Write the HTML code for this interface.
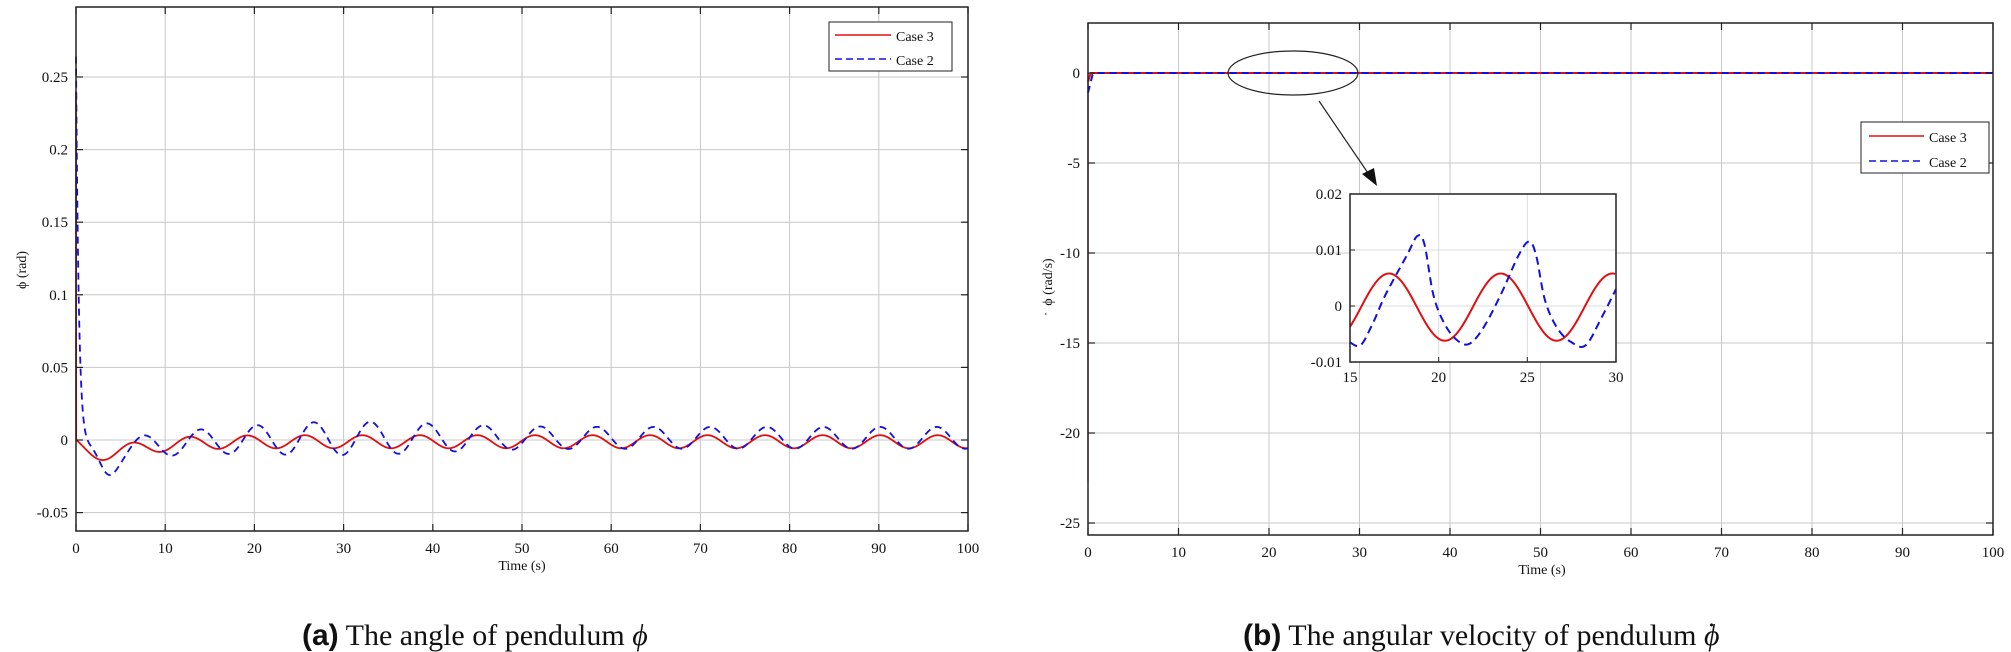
<!DOCTYPE html>
<html><head><meta charset="utf-8"><style>
html,body{margin:0;padding:0;background:#fff;}
svg{display:block;}
text{font-family:"Liberation Serif",serif;fill:#111;}
</style></head><body>
<svg id="s" width="2011" height="652" viewBox="0 0 2011 652" xmlns="http://www.w3.org/2000/svg">
<rect width="2011" height="652" fill="#fff"/>
<g id="g"></g>
<text x="302" y="645" font-size="30"><tspan font-family="Liberation Sans, sans-serif" font-weight="bold">(a)</tspan> The angle of pendulum <tspan font-style="italic">ϕ</tspan></text>
<text x="1243" y="645" font-size="30"><tspan font-family="Liberation Sans, sans-serif" font-weight="bold">(b)</tspan> The angular velocity of pendulum <tspan font-style="italic">ϕ</tspan><tspan dx="-13" dy="-2">˙</tspan></text>
</svg>
<script>
const NS="http://www.w3.org/2000/svg";
const G=document.getElementById('g');
function el(t,a,txt){const e=document.createElementNS(NS,t);for(const k in a)e.setAttribute(k,a[k]);if(txt!==undefined)e.textContent=txt;G.appendChild(e);return e;}
function line(x1,y1,x2,y2,st,w,da){const a={x1,y1,x2,y2,stroke:st,'stroke-width':w||1};if(da)a['stroke-dasharray']=da;return el('line',a);}
function path(pts,st,w,da){let d='M'+pts.map(p=>p[0].toFixed(2)+','+p[1].toFixed(2)).join('L');const a={d,fill:'none',stroke:st,'stroke-width':w,'stroke-linejoin':'round'};if(da)a['stroke-dasharray']=da;return el('path',a);}

const L={x0:76,x1:968,y0:7,y1:531};
const lx=t=>76+t*8.92, ly=v=>440-v*1452;
for(let t=10;t<100;t+=10)line(lx(t),L.y0,lx(t),L.y1,'#c8c8c8',1);
for(let v=-0.05;v<=0.2501;v+=0.05)line(L.x0,ly(v),L.x1,ly(v),'#c8c8c8',1);
const RED='#e01010',BLUE='#1010e0';
let rp=[],bp=[];
rp.push([lx(0),ly(0.24)]);
for(let t=0.02;t<=100;t+=0.05){
 let r=-0.0012+0.0045*Math.cos(2*Math.PI*(t-6.3)/6.45)-0.008*(t/2.8)*Math.exp(1-t/2.8)-0.003*Math.exp(-t);
 rp.push([lx(t),ly(r)]);
}
for(let t=0;t<=100;t+=0.03){
 let c=0.0015-0.016*Math.exp(-t/8);
 let a=0.0075+0.004*Math.exp(-Math.pow((t-30)/14,2));
 let b=0.264*Math.exp(-t/0.32)+(1-Math.exp(-t/0.6))*(c+a*Math.cos(2*Math.PI*(t-7.6)/6.35))-0.01*Math.exp(-Math.pow((t-3.5)/1.3,2));
 bp.push([lx(t),ly(b)]);
}
path(rp,RED,1.8);
path(bp,BLUE,1.8,'7,5');
el('rect',{x:L.x0,y:L.y0,width:L.x1-L.x0,height:L.y1-L.y0,fill:'none',stroke:'#222','stroke-width':1.5});
for(let t=0;t<=100;t+=10){line(lx(t),L.y1,lx(t),L.y1-7,'#222',1.2);line(lx(t),L.y0,lx(t),L.y0+7,'#222',1.2);
 el('text',{x:lx(t),y:553,'font-size':15,'text-anchor':'middle'},String(t));}
const ylabL=['-0.05','0','0.05','0.1','0.15','0.2','0.25'];
ylabL.forEach((s,i)=>{const v=-0.05+0.05*i;line(L.x0,ly(v),L.x0+7,ly(v),'#222',1.2);line(L.x1,ly(v),L.x1-7,ly(v),'#222',1.2);
 el('text',{x:68,y:ly(v)+5,'font-size':15,'text-anchor':'end'},s);});
el('text',{x:522,y:570,'font-size':14,'text-anchor':'middle'},'Time (s)');
el('text',{x:0,y:0,'font-size':14,'text-anchor':'middle',transform:'translate(26,270) rotate(-90)'},'ϕ (rad)');
el('rect',{x:829,y:22,width:123,height:49,fill:'#fff',stroke:'#222','stroke-width':1});
line(835,35,891,35,RED,1.5);line(835,59,891,59,BLUE,1.5,'7,4');
el('text',{x:896,y:41,'font-size':14},'Case 3');el('text',{x:896,y:65,'font-size':14},'Case 2');

const R={x0:1088,x1:1993,y0:23,y1:535};
const rx=t=>1088+t*9.05, ry=v=>73-v*18;
for(let t=10;t<100;t+=10)line(rx(t),R.y0,rx(t),R.y1,'#c8c8c8',1);
for(let v=0;v>=-25;v-=5)line(R.x0,ry(v),R.x1,ry(v),'#c8c8c8',1);
line(rx(0),ry(-22.7),rx(0),ry(0),'#f08080',1.5);
path([[rx(0),ry(-0.5)],[rx(0.3),ry(0)],[rx(100),ry(0)]],RED,2);
path([[rx(0),ry(-1.1)],[rx(0.5),ry(-0.1)],[rx(1),ry(0)],[rx(100),ry(0)]],BLUE,2,'7,5');
el('rect',{x:R.x0,y:R.y0,width:R.x1-R.x0,height:R.y1-R.y0,fill:'none',stroke:'#222','stroke-width':1.5});
for(let t=0;t<=100;t+=10){line(rx(t),R.y1,rx(t),R.y1-7,'#222',1.2);line(rx(t),R.y0,rx(t),R.y0+7,'#222',1.2);
 el('text',{x:rx(t),y:557,'font-size':15,'text-anchor':'middle'},String(t));}
[0,-5,-10,-15,-20,-25].forEach(v=>{line(R.x0,ry(v),R.x0+7,ry(v),'#222',1.2);line(R.x1,ry(v),R.x1-7,ry(v),'#222',1.2);
 el('text',{x:1080,y:ry(v)+5,'font-size':15,'text-anchor':'end'},String(v));});
el('text',{x:1542,y:574,'font-size':14,'text-anchor':'middle'},'Time (s)');
el('text',{x:0,y:0,'font-size':14,'text-anchor':'middle',transform:'translate(1052,282) rotate(-90)'},'ϕ (rad/s)');
el('text',{x:0,y:0,'font-size':14,'text-anchor':'middle',transform:'translate(1054,314) rotate(-90)'},'˙');
el('rect',{x:1861,y:122,width:128,height:51,fill:'#fff',stroke:'#222','stroke-width':1});
line(1869,136,1924,136,RED,1.5);line(1869,161,1924,161,BLUE,1.5,'7,4');
el('text',{x:1929,y:142,'font-size':14},'Case 3');el('text',{x:1929,y:167,'font-size':14},'Case 2');
el('ellipse',{cx:1293,cy:73,rx:65,ry:22,fill:'none',stroke:'#222','stroke-width':1.2});
line(1319,101,1370,176,'#222',1.2);
el('path',{d:'M1377,186 L1362,174 L1374,168 Z',fill:'#111'});
const I={x0:1350,x1:1616,y0:194,y1:362};
const ix=t=>1350+(t-15)*17.73, iy=v=>306-v*5600;
el('rect',{x:I.x0,y:I.y0,width:I.x1-I.x0,height:I.y1-I.y0,fill:'#fff'});
for(const t of [20,25])line(ix(t),I.y0,ix(t),I.y1,'#dcdcdc',1);
for(const v of [0.01,0])line(I.x0,iy(v),I.x1,iy(v),'#dcdcdc',1);
let ir=[];for(let t=15;t<=30;t+=0.05)ir.push([ix(t),iy(0.006*Math.cos(2*Math.PI*(t-17.2)/6.3)-0.0002)]);
const K=[[15,-0.0065],[15.6,-0.007],[16.3,-0.003],[17,0.002],[18.2,0.009],[18.8,0.0125],[19.2,0.011],[19.7,0.002],[20.3,-0.003],[21.0,-0.006],[21.7,-0.0068],[22.5,-0.004],[23.5,0.002],[24.5,0.009],[25.1,0.0115],[25.5,0.009],[26,0.001],[26.7,-0.004],[27.5,-0.0065],[28.3,-0.007],[29.2,-0.002],[30,0.003]];
let ib=[];
for(let i=0;i<K.length-1;i++){const p0=K[Math.max(0,i-1)],p1=K[i],p2=K[i+1],p3=K[Math.min(K.length-1,i+2)];
 for(let s=0;s<1;s+=0.1){const s2=s*s,s3=s2*s;
  const f=(a,b,c,d)=>0.5*((2*b)+(-a+c)*s+(2*a-5*b+4*c-d)*s2+(-a+3*b-3*c+d)*s3);
  ib.push([ix(f(p0[0],p1[0],p2[0],p3[0])),iy(f(p0[1],p1[1],p2[1],p3[1]))]);}}
ib.push([ix(30),iy(0.003)]);
path(ir,RED,2);path(ib,BLUE,2,'8,5');
el('rect',{x:I.x0,y:I.y0,width:I.x1-I.x0,height:I.y1-I.y0,fill:'none',stroke:'#222','stroke-width':1.5});
[15,20,25,30].forEach(t=>{line(ix(t),I.y1,ix(t),I.y1-5,'#222',1);el('text',{x:ix(t),y:382,'font-size':15,'text-anchor':'middle'},String(t));});
[['0.02',0.02],['0.01',0.01],['0',0],['-0.01',-0.01]].forEach(([s,v])=>{line(I.x0,iy(v),I.x0+5,iy(v),'#222',1);el('text',{x:1342,y:iy(v)+5,'font-size':15,'text-anchor':'end'},s);});
</script>
</body></html>
